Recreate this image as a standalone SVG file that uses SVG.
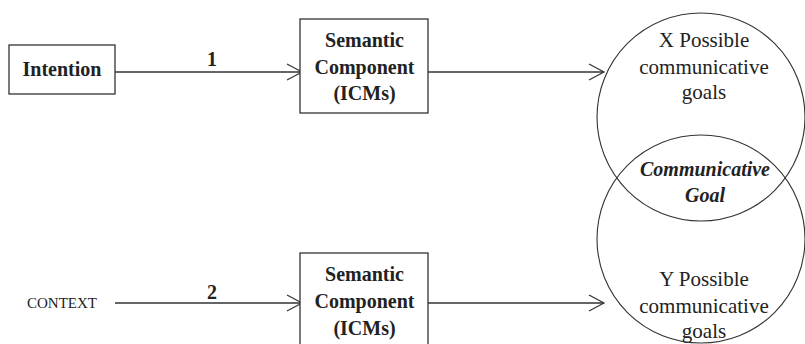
<svg xmlns="http://www.w3.org/2000/svg" width="805" height="344" viewBox="0 0 805 344" font-family="'Liberation Serif', 'Times New Roman', Times, 'DejaVu Serif', serif">
  <defs>
    <marker id="open-arrow" markerUnits="userSpaceOnUse" markerWidth="18" markerHeight="20" refX="16" refY="9" orient="auto">
      <path d="M1,1 L16,9 L1,17" fill="none" stroke="#333" stroke-width="1.2"/>
    </marker>
    <style>
      .box { fill: #fff; stroke: #333; stroke-width: 1.3; }
      .circle { fill: none; stroke: #333; stroke-width: 1.1; }
      .edge { fill: none; stroke: #333; stroke-width: 1.3; marker-end: url(#open-arrow); }
      text { fill: #222; text-anchor: middle; }
      .bold { font-size: 20px; font-weight: bold; }
      .reg { font-size: 21px; }
      .goal { font-size: 20px; font-weight: bold; font-style: italic; }
      .small { font-size: 15px; }
    </style>
  </defs>

  <!-- connectors -->
  <g id="connectors">
    <path class="edge" d="M115,72 H302"/>
    <path class="edge" d="M428,72 H604"/>
    <path class="edge" d="M115,303 H302"/>
    <path class="edge" d="M428,303 H604"/>
    <text class="bold" x="212" y="66">1</text>
    <text class="bold" x="212" y="299">2</text>
  </g>

  <g id="intention">
    <rect class="box" x="9" y="45" width="106" height="49"/>
    <text class="bold" x="62" y="76">Intention</text>
  </g>

  <g id="context">
    <text class="small" x="62" y="308">CONTEXT</text>
  </g>

  <g id="semantic-1">
    <rect class="box" x="300" y="19" width="128" height="94"/>
    <text class="bold" x="364.5" y="47">Semantic</text>
    <text class="bold" x="364.5" y="74">Component</text>
    <text class="bold" x="364.5" y="100">(ICMs)</text>
  </g>

  <g id="semantic-2">
    <rect class="box" x="300" y="253" width="128" height="95"/>
    <text class="bold" x="364.5" y="281">Semantic</text>
    <text class="bold" x="364.5" y="308">Component</text>
    <text class="bold" x="364.5" y="335">(ICMs)</text>
  </g>

  <g id="goals-x">
    <circle class="circle" cx="701" cy="117" r="104"/>
    <text class="reg" x="704" y="47">X Possible</text>
    <text class="reg" x="704" y="74">communicative</text>
    <text class="reg" x="704" y="99">goals</text>
  </g>

  <g id="goals-y">
    <circle class="circle" cx="701" cy="239" r="104"/>
    <text class="reg" x="704" y="286">Y Possible</text>
    <text class="reg" x="704" y="313">communicative</text>
    <text class="reg" x="704" y="338">goals</text>
  </g>

  <g id="communicative-goal">
    <text class="goal" x="705" y="176">Communicative</text>
    <text class="goal" x="705" y="202">Goal</text>
  </g>
</svg>
